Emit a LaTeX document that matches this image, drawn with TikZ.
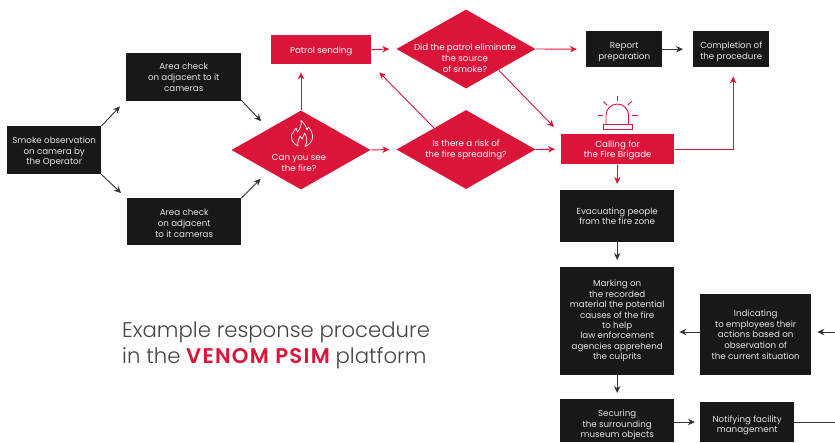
\documentclass[tikz,border=0pt]{standalone}
\usepackage{fontspec}
\setmainfont{Poppins}
\newfontfamily\titlefont{Poppins Light}
\newfontfamily\strongfont[LetterSpace=6]{Poppins SemiBold}
\usetikzlibrary{arrows.meta,shapes.geometric}
\definecolor{vred}{HTML}{DB1539}
\definecolor{vblack}{HTML}{181818}
\definecolor{vgrey}{HTML}{333333}
\definecolor{vtext}{HTML}{E4E4E4}
\definecolor{vtitle}{HTML}{444444}
\newcommand{\nudgeup}[1]{\rule{0pt}{#1}}
\tikzset{
  x=1pt,y=-1pt,
  basebox/.style={rectangle,anchor=north west,inner sep=0pt,align=center,font=\fontsize{8.7}{10.9}\selectfont},
  blackbox/.style={basebox,fill=vblack,text=vtext},
  redbox/.style={basebox,fill=vred,text=white},
  tight/.style={font=\fontsize{8.7}{10.4}\selectfont},
  decision/.style={diamond,fill=vred,inner sep=0pt},
  decisiontext/.style={inner sep=0pt,align=center,text=white,font=\fontsize{8.7}{10.9}\selectfont},
  darrow/.style={draw=vgrey,line width=0.9pt,-{Stealth[length=7pt,width=6.5pt]}},
  rarrow/.style={draw=vred,line width=0.9pt,-{Stealth[length=7pt,width=6.5pt]}},
  iconline/.style={draw=vred,line width=0.9pt},
}
\begin{document}
\begin{tikzpicture}
\useasboundingbox (0,0) rectangle (835,442);
\node[blackbox,minimum width=94pt,minimum height=48pt] (smoke) at (7,126) {\nudgeup{10pt}Smoke observation\\on camera by\\the Operator};
\node[blackbox,minimum width=115pt,minimum height=48pt] (areaA) at (126,53) {Area check\\on adjacent to it\\cameras};
\node[blackbox,minimum width=114pt,minimum height=47pt] (areaB) at (127,198) {\nudgeup{9pt}Area check\\on adjacent\\to it cameras};
\node[redbox,minimum width=100pt,minimum height=29pt] (patrol) at (271,35) {\nudgeup{9.5pt}Patrol sending};
\node[decision,minimum width=139pt,minimum height=79pt,aspect=1.76] (cansee) at (301,150) {};
\node[decisiontext] (canseetext) at (299,163) {Can you see\\the fire?};
\node[decision,minimum width=139pt,minimum height=79pt,aspect=1.76] (elim) at (466,49) {};
\node[decisiontext] (elimtext) at (465,58) {Did the patrol eliminate\\the source\\of smoke?};
\node[decision,minimum width=139pt,minimum height=79pt,aspect=1.76] (risk) at (466,149.5) {};
\node[decisiontext] (risktext) at (466,149.5) {Is there a risk of\\the fire spreading?};
\node[blackbox,minimum width=76pt,minimum height=36pt] (report) at (586,31) {\nudgeup{11pt}Report\\preparation};
\node[blackbox,minimum width=76pt,minimum height=36pt] (done) at (693,31) {\nudgeup{11pt}Completion of\\the procedure};
\node[redbox,minimum width=113pt,minimum height=30pt] (brigade) at (561,134) {\nudgeup{9pt}Calling for\\the Fire Brigade};
\node[blackbox,tight,minimum width=114pt,minimum height=52pt] (evac) at (560,190) {Evacuating people\\from the fire zone};
\node[blackbox,tight,minimum width=114pt,minimum height=108pt] (mark) at (560,267) {Marking on\\the recorded\\material the potential\\causes of the fire\\to help\\law enforcement\\agencies apprehend\\the culprits};
\node[blackbox,font=\fontsize{8.7}{10.6}\selectfont,minimum width=111pt,minimum height=81pt] (indicate) at (700,294) {Indicating\\to employees their\\actions based on\\observation of\\the current situation};
\node[blackbox,minimum width=114pt,minimum height=43pt] (secure) at (560,399) {\nudgeup{15pt}Securing\\the surrounding\\museum objects};
\node[blackbox,tight,minimum width=94pt,minimum height=40pt] (notify) at (700,402) {\nudgeup{13pt}Notifying facility\\management};
\coordinate (freeA) at (835,332);
\coordinate (freeB) at (835,422);
% connectors
\draw[darrow] (smoke.north east) -- ([shift={(-6,5)}]areaA.south west);
\draw[darrow] (smoke.south east) -- ([shift={(-6,-5)}]areaB.north west);
\draw[darrow] ([shift={(0,-1)}]areaA.south east) -- ([shift={(-5,-9)}]cansee.north west);
\draw[darrow] (areaB.north east) -- ([shift={(-5.5,9)}]cansee.south west);
\draw[rarrow] (cansee.north) -- ([shift={(0,8)}]patrol.south -| cansee.north);
\draw[rarrow] (patrol.east) -- ([shift={(-7,0)}]elim.west);
\draw[rarrow] (cansee.east) -- ([shift={(-7,0)}]risk.west);
\draw[rarrow] ([shift={(2.5,-2)}]risk.north west) -- ([shift={(8,8)}]patrol.south east);
\draw[rarrow] (elim.east) -- ([shift={(-9,0)}]report.west);
\draw[darrow] (report.east) -- ([shift={(-10,0)}]done.west);
\draw[rarrow] ([shift={(-2,1.5)}]elim.south east) -- ([shift={(-7,-7)}]brigade.north west);
\draw[rarrow] (risk.east) -- ([shift={(-6,0)}]brigade.west);
\draw[rarrow] ([shift={(1,0)}]brigade.east) -| ([shift={(2,9)}]done.south);
\draw[rarrow] (brigade.south) -- ([shift={(0,-6)}]evac.north);
\draw[darrow] (evac.south) -- ([shift={(0,-7)}]mark.north);
\draw[darrow] (mark.south) -- ([shift={(0,-6)}]secure.north);
\draw[darrow] (indicate.west |- freeA) -- ([shift={(5,0)}]mark.east |- freeA);
\draw[darrow] (freeA) -- ([shift={(6,0)}]indicate.east |- freeA);
\draw[darrow] (secure.east |- freeB) -- ([shift={(-5,0)}]notify.west |- freeB);
\draw[draw=vgrey,line width=0.9pt] (notify.east |- freeB) -- (freeB);
% alarm icon
\draw[iconline,fill=white] (603,124.3) rectangle (632,129);
\draw[iconline] (606,124.3) -- (606,115.3) arc[start angle=180,end angle=360,radius=11.3] -- (628.6,124.3);
\draw[iconline] (617.5,95.5) -- (617.5,100.5);
\draw[iconline] (631.7,101.3) -- (627.7,105.3);
\draw[iconline] (603.3,101.7) -- (607.3,105.3);
\draw[iconline] (597.7,115) -- (603.3,115);
\draw[iconline] (631.7,115) -- (637.7,115);
% flame icon
\draw[white,line width=0.7pt,line join=round] (298,146) .. controls (293,144) and (291,139) .. (291.5,135) .. controls (293,132) and (295,130) .. (296,128) .. controls (296.5,130) and (297,131) .. (297.5,132) .. controls (300,129) and (302,125) .. (301,120.5) .. controls (304,123) and (306,126) .. (307,130) .. controls (307.5,129) and (308,128) .. (308.5,127) .. controls (311,130) and (313,134) .. (312.5,138) .. controls (312,142) and (309,145) .. (305,146.5);
\draw[white,line width=0.7pt,line join=round] (298,146) .. controls (297,142) and (299,139) .. (300,136) .. controls (301,137) and (301.5,138) .. (302,139) .. controls (303,137) and (304,135) .. (304.5,133) .. controls (307,137) and (308,141) .. (305,146.5);
% title
\node[inner sep=0pt,anchor=base west,text=vtitle,font=\fontsize{21.2}{26}\selectfont\titlefont] (titleA) at (122,337) {Example response procedure};
\node[inner sep=0pt,anchor=base west,text=vtitle,font=\fontsize{21.2}{26}\selectfont\titlefont] (titleB) at (122,363) {in the {\strongfont\color{vred}VENOM PSIM} platform};
\end{tikzpicture}
\end{document}
